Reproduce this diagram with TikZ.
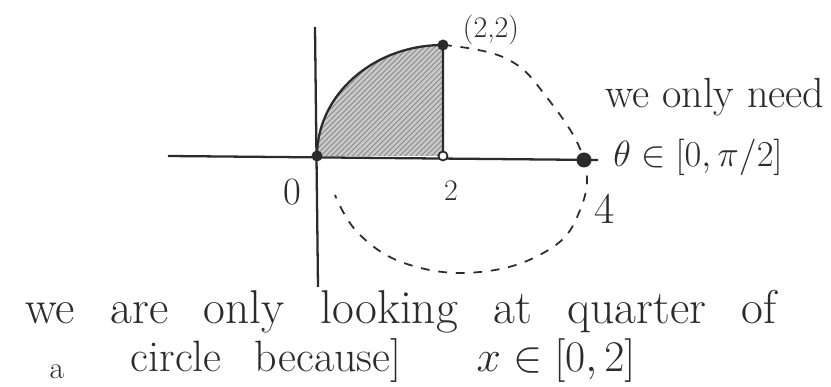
\documentclass[tikz,border=0pt]{standalone}
\usepackage{amsmath,amssymb}
\usetikzlibrary{patterns}
\definecolor{Ink}{HTML}{2B2B2B}
\definecolor{Shade}{HTML}{C8C8C8}
\newcommand\widesp{\spaceskip=.75em\relax}
\tikzset{axis/.style={line width=1.3pt,draw=Ink},dot/.style={circle,fill=Ink,inner sep=0pt,minimum size=2.2mm},odot/.style={circle,draw=Ink,line width=1pt,fill=white,inner sep=0pt,minimum size=1.8mm},dashcurve/.style={line width=1pt,draw=Ink,dash pattern=on 5pt off 5pt},hand/.style={text=Ink,inner sep=0pt}}

\begin{document}
\begin{tikzpicture}
\useasboundingbox (0,0) rectangle (16.62,7.74);
% shaded quarter
\fill[Shade] (6.34,4.62) arc[start angle=180,end angle=90,x radius=2.52,y radius=2.22] -- (8.86,4.62) -- cycle;
\path[pattern=north east lines,pattern color=Ink!60] (6.34,4.62) arc[start angle=180,end angle=90,x radius=2.52,y radius=2.22] -- (8.86,4.62) -- cycle;
\draw[axis] (6.34,4.62) arc[start angle=180,end angle=90,x radius=2.52,y radius=2.22] -- (8.86,4.62);
% axes
\coordinate (xl) at (3.36,4.62);
\coordinate (xr) at (11.96,4.54);
\coordinate (yt) at (6.30,7.20);
\coordinate (yb) at (6.36,2.00);
\draw[axis] (xl)--(xr);
\draw[axis] (yb)--(yt);
% points
\node[dot] (o) at (6.34,4.62) {};
\node[odot] (p2) at (8.86,4.62) {};
\node[dot] (q) at (8.86,6.84) {};
\node[dot,minimum size=3mm] (p4) at (11.68,4.54) {};
\draw[dashcurve] plot[smooth,tension=.7] coordinates {(q) (10.10,6.58) (10.90,5.84) (p4) (11.56,3.44) (10.90,2.70) (9.60,2.30) (8.20,2.44) (7.20,3.04) (6.70,3.84)};
% labels
\node[hand,font=\fontsize{22}{24}\selectfont] (lo) at (5.84,3.90) {0};
\node[hand,font=\fontsize{17}{19}\selectfont] (l2) at (9.02,3.92) {2};
\node[hand,font=\fontsize{25}{27}\selectfont] (l4) at (12.10,3.56) {4};
\node[hand,font=\fontsize{17}{19}\selectfont] (lq) at (9.82,7.14) {(2,2)};
\node[hand,font=\fontsize{24}{26}\selectfont] (need) at (14.30,5.80) {we only need};
\node[hand,font=\fontsize{22}{24}\selectfont] (theta) at (13.96,4.60) {$\theta\in[0,\pi/2]$};
\node[hand,anchor=base,font=\fontsize{27}{29}\selectfont\widesp] (line1) at (8.02,1.26) {we are only looking at quarter of};
\node[hand,anchor=base,font=\fontsize{18}{20}\selectfont] (a) at (1.14,0.16) {a};
\node[hand,anchor=base,font=\fontsize{25}{27}\selectfont\widesp] (line2) at (5.32,0.30) {circle because]};
\node[hand,anchor=base,font=\fontsize{25}{27}\selectfont] (xint) at (11.12,0.30) {$x\in[0,2]$};
\end{tikzpicture}
\end{document}
